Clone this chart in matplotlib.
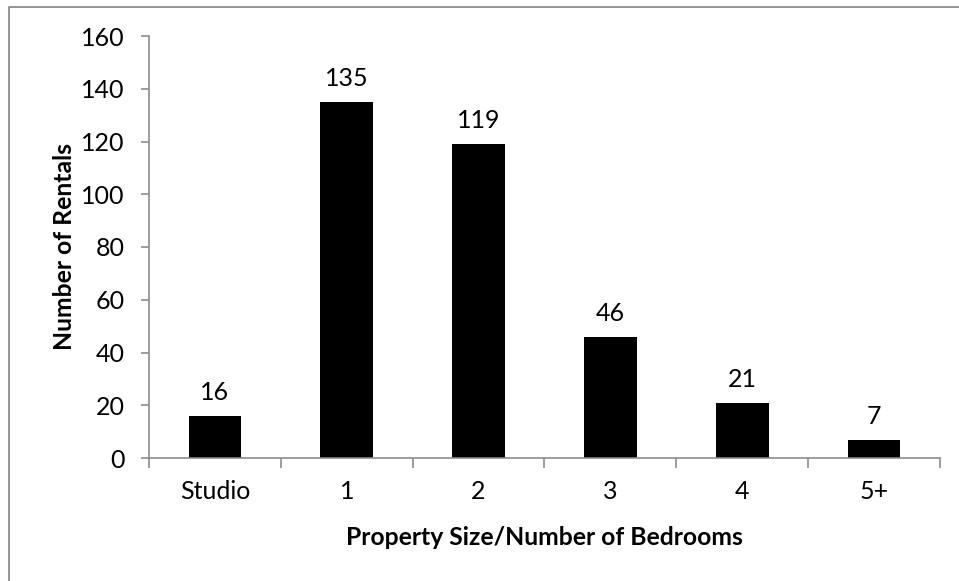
import matplotlib
matplotlib.use("Agg")
import matplotlib.pyplot as plt
from matplotlib.lines import Line2D

categories = ["Studio", "1", "2", "3", "4", "5+"]
values = [16, 135, 119, 46, 21, 7]
yticks = [0, 20, 40, 60, 80, 100, 120, 140, 160]

plt.rcParams['font.family'] = ['Lato', 'DejaVu Sans']
W, H = 959, 581
fig = plt.figure(figsize=(W/100, H/100), dpi=100)
fig.lines.append(Line2D([8.5/W, 8.5/W, 1.0], [0.0, 1-6.5/H, 1-6.5/H], transform=fig.transFigure,
                        color='#8c8c8c', linewidth=1.3))
ax = fig.add_axes([149/W, 1-458/H, (940-149)/W, (458-36)/H])

x = list(range(len(categories)))
bars = ax.bar(x, values, width=0.4, color='black')
for xi, v in zip(x, values):
    ax.annotate(str(v), (xi, v), xytext=(0, 8.5), textcoords='offset points',
                ha='center', va='bottom', fontsize=18)

ax.set_xlim(-0.5, len(categories)-0.5)
ax.set_ylim(0, 160)
ax.set_yticks(yticks)
ax.set_yticklabels([str(t) for t in yticks], fontsize=18)
ax.set_xticks(x)
ax.set_xticklabels(categories, fontsize=18)
ax.tick_params(axis='x', length=0, pad=16)
ax.set_xticks([i-0.5 for i in range(len(categories)+1)], minor=True)
ax.tick_params(axis='x', which='minor', length=7, color='#8c8c8c', width=1.2)
ax.tick_params(axis='y', length=6, color='#8c8c8c', width=1.2, pad=11.5)
for s in ['top', 'right']:
    ax.spines[s].set_visible(False)
for s in ['left', 'bottom']:
    ax.spines[s].set_color('#8c8c8c')
    ax.spines[s].set_linewidth(1.2)
ax.set_xlabel("Property Size/Number of Bedrooms", fontsize=17.8, fontweight='bold', labelpad=16.5)
ax.set_ylabel("Number of Rentals", fontsize=17.8, fontweight='bold', labelpad=4)

fig.savefig("out.png", dpi=100)
